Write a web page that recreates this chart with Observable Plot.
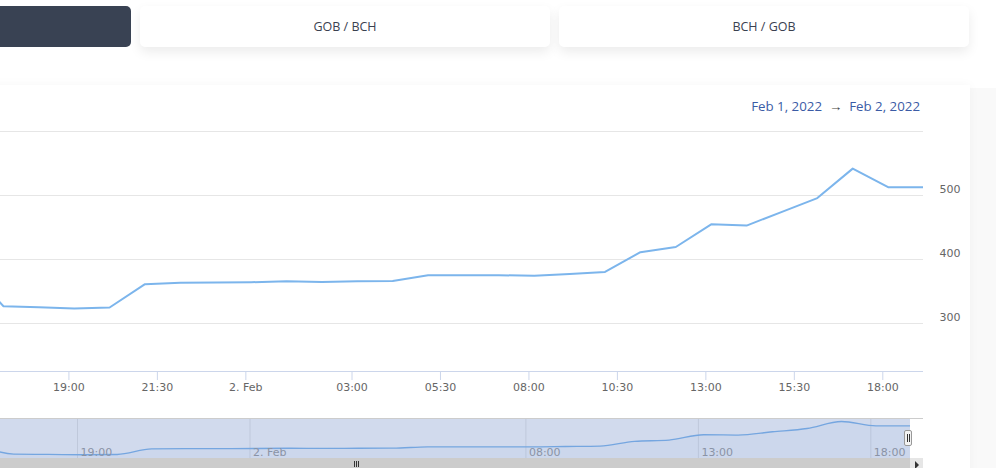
<!DOCTYPE html>
<html><head><meta charset="utf-8">
<script src="https://cdn.jsdelivr.net/npm/d3@7"></script>
<script src="https://cdn.jsdelivr.net/npm/@observablehq/plot@0.6"></script>
<style>
html,body{margin:0;padding:0;}
body{width:996px;height:468px;overflow:hidden;background:#fff;font-family:"Open Sans",sans-serif;position:relative}
.btn{position:absolute;top:6px;height:41px;border-radius:5px;display:flex;align-items:center;justify-content:center;font-size:12.5px;font-weight:500;color:#3a4150}
.dark{left:-12px;width:143px;background:#394253}
.light{background:#fff;box-shadow:0 5px 12px rgba(0,0,0,0.08)}
#strip{position:absolute;left:970px;top:88px;width:26px;height:380px;background:#f9f9f9}
#card{position:absolute;left:-12px;top:85px;width:982px;height:420px;background:#fff;box-shadow:0 0 10px rgba(0,0,0,0.04)}
#range{position:absolute;right:76px;top:97px;font-size:13.3px;color:#3b5ba5;white-space:pre}
#range .arr{color:#444}
#main{position:absolute;left:0;top:120px}
#nav{position:absolute;left:0;top:418px}
#navline{position:absolute;left:0;top:418px;width:923px;height:1px;background:#cccccc}
#thumb{position:absolute;left:0;top:458px;width:910px;height:10px;background:#cccccc}
#track{position:absolute;left:910px;top:458px;width:13px;height:10px;background:#e6e6e6}
#arrow{position:absolute;left:915px;top:461px;width:0;height:0;border-top:4px solid transparent;border-bottom:4px solid transparent;border-left:4px solid #333}
.rifle{position:absolute;top:461px;width:1px;height:6px;background:#333}
#handle{position:absolute;left:904px;top:430px;width:8px;height:16px;background:#f2f2f2;border:1px solid #999;border-radius:2px;box-sizing:border-box}
.hl{position:absolute;top:3px;width:1px;height:8px;background:#333}
</style>
</head><body>
<div class="btn dark"></div>
<div class="btn light" style="left:140px;width:410px">GOB / BCH</div>
<div class="btn light" style="left:559px;width:410px">BCH / GOB</div>
<div id="strip"></div>
<div id="card"></div>
<div id="range">Feb 1, 2022  <span class="arr">→</span>  Feb 2, 2022</div>
<div id="main"></div>
<div id="nav"></div>
<div id="navline"></div>
<div id="thumb"></div>
<div class="rifle" style="left:354px"></div>
<div class="rifle" style="left:356px"></div>
<div class="rifle" style="left:358px"></div>
<div id="track"></div>
<div id="arrow"></div>
<div id="handle"><div class="hl" style="left:2px"></div><div class="hl" style="left:4px"></div></div>
<script>
// hourly observations (Feb 1 16:09 -> Feb 2 19:09)
const times = [
  "2022-02-01T16:09","2022-02-01T17:09","2022-02-01T18:09","2022-02-01T19:09",
  "2022-02-01T20:09","2022-02-01T21:09","2022-02-01T22:09","2022-02-01T23:09",
  "2022-02-02T00:09","2022-02-02T01:09","2022-02-02T02:09","2022-02-02T03:09",
  "2022-02-02T04:09","2022-02-02T05:09","2022-02-02T06:09","2022-02-02T07:09",
  "2022-02-02T08:09","2022-02-02T09:09","2022-02-02T10:09","2022-02-02T11:09",
  "2022-02-02T12:09","2022-02-02T13:09","2022-02-02T14:09","2022-02-02T15:09",
  "2022-02-02T16:09","2022-02-02T17:09","2022-02-02T18:09","2022-02-02T19:09"
];
const values = [
  386, 327, 325.5, 323.5,
  325, 361.5, 363.5, 364,
  364.5, 366, 365, 366,
  366.5, 375.5, 375.5, 375.5,
  374.5, 377.5, 380.5, 411.5,
  419.5, 455, 453, 474.5,
  496, 542, 513, 513
];
const xTickLabels = ["2022-02-01T19:00","2022-02-01T21:30","2022-02-02T00:00","2022-02-02T03:00",
  "2022-02-02T05:30","2022-02-02T08:00","2022-02-02T10:30","2022-02-02T13:00","2022-02-02T15:30","2022-02-02T18:00"];
const navTickLabels = ["2022-02-01T19:00","2022-02-02T00:00","2022-02-02T08:00","2022-02-02T13:00","2022-02-02T18:00"];
const yGrid = [300, 400, 500, 600];
const yLabels = [300, 400, 500];

const parse = s => new Date(s);
const data = times.map((t, i) => ({t: parse(t), v: values[i]}));
const xTicks = xTickLabels.map(parse);
const navTicks = navTickLabels.map(parse);
const fmt = d => (d.getHours() === 0 && d.getMinutes() === 0) ? d3.timeFormat("%-d. %b")(d) : d3.timeFormat("%H:%M")(d);

const main = Plot.plot({
  width: 970, height: 280,
  marginLeft: 0, marginRight: 47, marginTop: 11, marginBottom: 29,
  style: {fontFamily: "DejaVu Sans", fontSize: "11px", background: "transparent", overflow: "visible"},
  x: {type: "time", domain: [parse("2022-02-01T17:04"), parse("2022-02-02T19:09")]},
  y: {domain: [225, 600]},
  marks: [
    Plot.gridY(yGrid, {stroke: "#e6e6e6", strokeOpacity: 1}),
    Plot.ruleY([225], {stroke: "#ccd6eb"}),
    Plot.axisX(xTicks, {tickSize: 9, tickPadding: 3, stroke: "#ccd6eb", fill: "#666", tickFormat: fmt, label: null}),
    Plot.axisY(yLabels, {anchor: "right", tickSize: 0, tickPadding: 16, dy: -6, fill: "#666", label: null}),
    Plot.line(data, {x: "t", y: "v", stroke: "#7cb5ec", strokeWidth: 2, clip: true})
  ]
});
document.getElementById("main").appendChild(main);

const nav = Plot.plot({
  width: 923, height: 40,
  marginLeft: 0, marginRight: 13, marginTop: 0, marginBottom: 0,
  style: {fontFamily: "DejaVu Sans", fontSize: "11px", background: "#fff", overflow: "visible"},
  x: {type: "time", domain: [parse("2022-02-01T16:46"), parse("2022-02-02T19:09")], axis: null},
  y: {domain: [298.7, 561.7], axis: null},
  marks: [
    Plot.ruleX(navTicks, {stroke: "#e6e6e6"}),
    Plot.areaY(data, {x: "t", y: "v", fill: "#7cb5ec", fillOpacity: 0.05, curve: "monotone-x", clip: true}),
    Plot.line(data, {x: "t", y: "v", stroke: "#7cb5ec", strokeWidth: 1.3, curve: "monotone-x", clip: true}),
    Plot.rectX([{a: data[0].t, b: data[data.length - 1].t}], {x1: "a", x2: "b", fill: "rgb(102,133,194)", fillOpacity: 0.3, clip: true}),
    Plot.text(navTicks, {x: d => d, text: fmt, frameAnchor: "bottom", dy: -3, dx: 3, textAnchor: "start", fill: "#8a93a5", fontSize: 11})
  ]
});
document.getElementById("nav").appendChild(nav);
</script>
</body></html>
